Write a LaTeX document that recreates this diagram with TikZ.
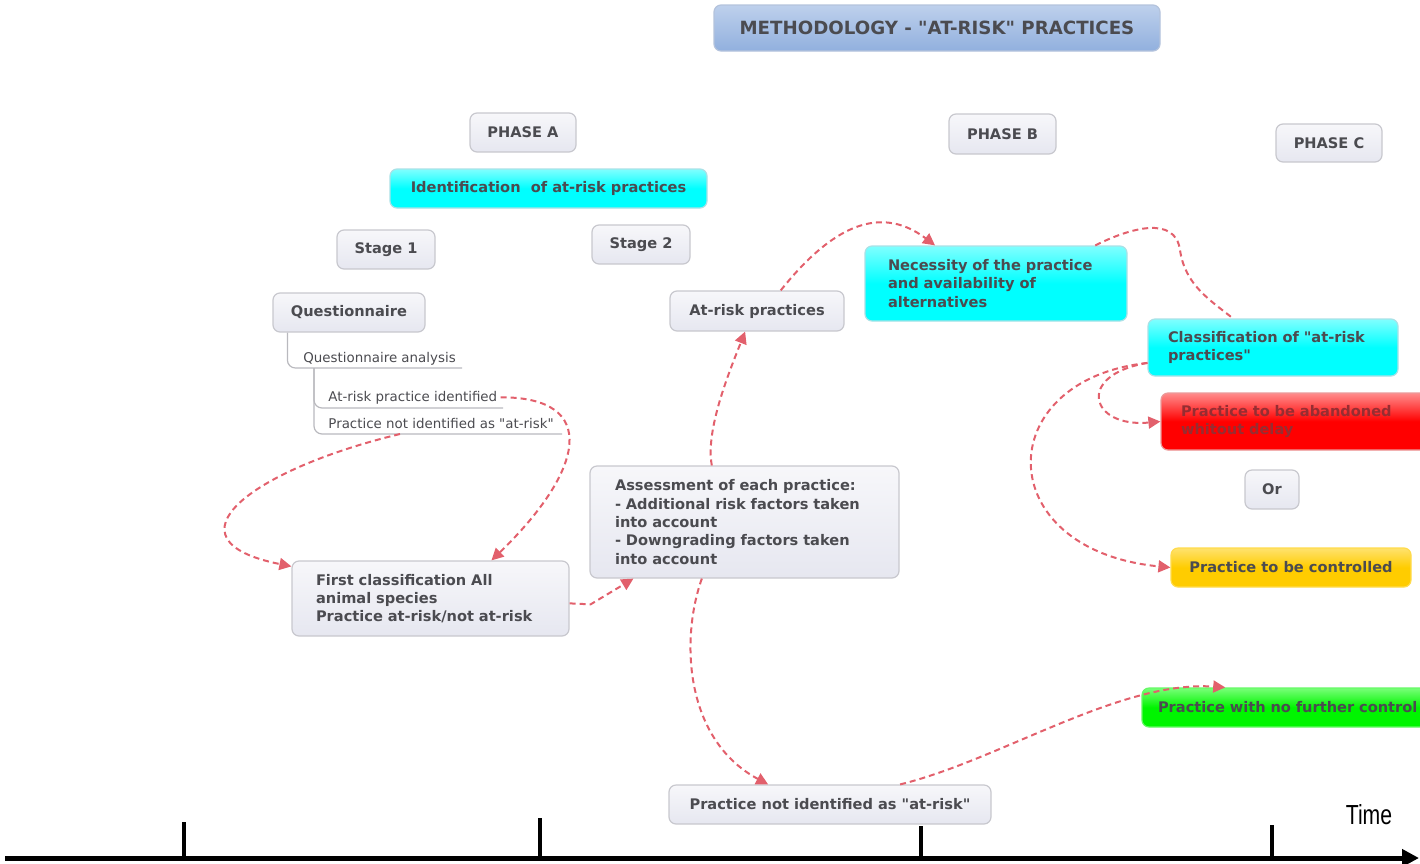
\documentclass[tikz,border=0pt]{standalone}
\usepackage{fontspec}
\setmainfont{DejaVu Sans}
\newfontfamily\timefamily{Liberation Sans}
\usetikzlibrary{arrows.meta}

\newcommand{\boxfont}{\fontsize{7.3}{9.15}\selectfont\bfseries}
\newcommand{\headfont}{\fontsize{9.1}{11}\selectfont\bfseries}
\newcommand{\notefont}{\fontsize{6.7}{8}\selectfont}
\newcommand{\dq}{\textquotedbl}

\definecolor{maptext}{RGB}{75,75,80}
\definecolor{boxline}{RGB}{200,200,206}
\definecolor{boxtop}{RGB}{247,247,250}
\definecolor{boxbot}{RGB}{230,231,240}
\definecolor{cyantop}{RGB}{128,255,255}
\definecolor{cyanbot}{RGB}{0,255,255}
\definecolor{cyanline}{RGB}{170,225,230}
\definecolor{headtop}{RGB}{190,208,236}
\definecolor{headbot}{RGB}{145,176,222}
\definecolor{headline}{RGB}{180,195,220}
\definecolor{redtop}{RGB}{255,140,140}
\definecolor{redbot}{RGB}{255,0,0}
\definecolor{redtext}{RGB}{150,45,50}
\definecolor{goldtop}{RGB}{255,226,110}
\definecolor{goldbot}{RGB}{255,204,0}
\definecolor{greentop}{RGB}{120,255,120}
\definecolor{greenbot}{RGB}{0,245,0}
\definecolor{treegray}{RGB}{185,185,190}
\definecolor{linkred}{RGB}{226,96,108}

\tikzset{
mapbox/.style={draw=boxline, line width=0.6pt, rounded corners=3.5pt, top color=boxtop, bottom color=boxbot, text=maptext, font=\boxfont, inner sep=0pt, align=center},
cyanbox/.style={mapbox, top color=cyantop, bottom color=cyanbot, middle color=cyanbot, draw=cyanline},
headbox/.style={mapbox, top color=headtop, bottom color=headbot, draw=headline, font=\headfont},
redbox/.style={mapbox, top color=redtop, bottom color=redbot, middle color=redbot, draw=redbot!80!black!40, text=redtext},
goldbox/.style={mapbox, top color=goldtop, bottom color=goldbot, middle color=goldbot, draw=goldbot!70!white},
greenbox/.style={mapbox, top color=greentop, bottom color=greenbot, middle color=greenbot, draw=greenbot!60!white},
notetext/.style={text=maptext, font=\notefont, inner sep=1.5pt, anchor=base west},
treeline/.style={draw=treegray, line width=0.6pt, rounded corners=4pt},
link/.style={draw=linkred, line width=1pt, dash pattern=on 3pt off 2pt},
linkarrow/.style={link, -{Triangle[length=6pt,width=6pt]}},
timeaxis/.style={line width=2.5pt, -{Triangle[length=8.5pt,width=8.5pt]}},
timetick/.style={line width=2pt}
}

\begin{document}
\begin{tikzpicture}[x=0.5pt,y=0.5pt,yscale=-1,xscale=1]
\useasboundingbox (0,0) rectangle (1420,863);
\clip (0,0) rectangle (1420,863);

%Title
\node[headbox, minimum width=223pt, minimum height=23pt] (title) at (937,28) {METHODOLOGY - \dq AT-RISK\dq\ PRACTICES};

%Phases
\node[mapbox, minimum width=53pt, minimum height=19.5pt] (phasea) at (523,132.5) {PHASE A};
\node[mapbox, minimum width=53.5pt, minimum height=20pt] (phaseb) at (1002.5,134) {PHASE B};
\node[mapbox, minimum width=53pt, minimum height=19pt] (phasec) at (1329,143) {PHASE C};

%Phase A boxes
\node[cyanbox, minimum width=158.5pt, minimum height=19.5pt] (ident) at (548.5,188.5) {Identification \ of at-risk practices};
\node[mapbox, minimum width=49pt, minimum height=19.5pt] (stage1) at (386,249.5) {Stage 1};
\node[mapbox, minimum width=49pt, minimum height=19.5pt] (stage2) at (641,244.5) {Stage 2};
\node[mapbox, minimum width=76pt, minimum height=19.5pt] (quest) at (349,312.5) {Questionnaire};

%Questionnaire branches
\node[notetext] (qa) at (300,362) {Questionnaire analysis};
\node[notetext] (ar) at (325,401) {At-risk practice identified};
\node[notetext] (pn) at (325,428) {Practice not identified as \dq at-risk\dq};
\coordinate (qaline) at (462,368);
\coordinate (qafork) at (314,368);
\coordinate (arline) at (503,408);
\coordinate (pnline) at (562,434);
\coordinate (pnlink) at (400,434);
\draw[treeline] ([xshift=7.5pt]quest.south west) |- (qaline);
\draw[treeline] (qafork) |- (arline);
\draw[treeline] (qafork) |- (pnline);

\node[mapbox, align=left, text width=114.5pt, inner xsep=12pt, minimum height=37.5pt] (first) at (430.5,598.5) {First classification All\\animal species\\Practice at-risk/not at-risk};
\node[mapbox, align=left, text width=129.5pt, inner xsep=12.5pt, minimum height=56pt] (assess) at (744.5,522) {Assessment of each practice:\\- Additional risk factors taken\\into account\\- Downgrading factors taken\\into account};
\node[mapbox, minimum width=87pt, minimum height=20pt] (atrisk) at (757,311) {At-risk practices};
\node[mapbox, minimum width=161pt, minimum height=19.5pt] (notrisk) at (830,804.5) {Practice not identified as \dq at-risk\dq};

%Phase B and C boxes
\node[cyanbox, align=left, text width=108pt, inner xsep=11.5pt, minimum height=37.5pt] (need) at (996,283.5) {Necessity of the practice\\and availability of\\alternatives};
\node[cyanbox, align=left, text width=105pt, inner xsep=10pt, minimum height=28.5pt] (classif) at (1273,347.5) {Classification of \dq at-risk\\practices\dq};
\node[redbox, align=left, text width=119.5pt, inner xsep=10pt, minimum height=28.5pt] (abandon) at (1300.5,421.5) {Practice to be abandoned\\whitout delay};
\node[mapbox, minimum width=27pt, minimum height=19.5pt] (or) at (1272,489.5) {Or};
\node[goldbox, minimum width=120pt, minimum height=19.5pt] (control) at (1291,567.5) {Practice to be controlled};
\node[greenbox, align=left, text width=133pt, inner xsep=8pt, minimum height=19.5pt] (nofurther) at (1291,707.5) {Practice with no further control};

%Links
\draw[linkarrow] (ar.east) .. controls (600,397) and (585,470) .. (first.32);
\draw[linkarrow] (pnlink) .. controls (250,470) and (160,540) .. (first.167);
\draw[linkarrow] (first.-2) -- ++(21,1) -- (assess.207);
\draw[linkarrow] (assess.120) .. controls (705,430) and (730,370) .. (atrisk.240);
\draw[linkarrow] (atrisk.41) .. controls (825,235) and (875,200) .. (need.148);
\draw[link] (need.21) .. controls (1130,228) and (1175,215) .. (1180,250) .. controls (1185,285) and (1210,300) .. (classif.144);
\draw[linkarrow] (classif.187) .. controls (990,380) and (990,550) .. (control.west);
\draw[linkarrow] (classif.187) .. controls (1075,375) and (1090,428) .. (abandon.west);
\draw[linkarrow] (assess.233) .. controls (680,640) and (685,740) .. (notrisk.162);
\draw[linkarrow] (notrisk.16) .. controls (1000,760) and (1120,680) .. (nofurther.163);

%Time axis
\draw[timeaxis] (5,858) -- (1419,858);
\foreach \x/\top in {184/822, 540/818, 921/826, 1272/825}
  \draw[timetick] (\x,\top) -- (\x,858);
\node[font=\timefamily\fontsize{10.6}{12}\selectfont] (time) at (1369,815) {\scalebox{1}[1.3]{Time}};

\end{tikzpicture}
\end{document}
